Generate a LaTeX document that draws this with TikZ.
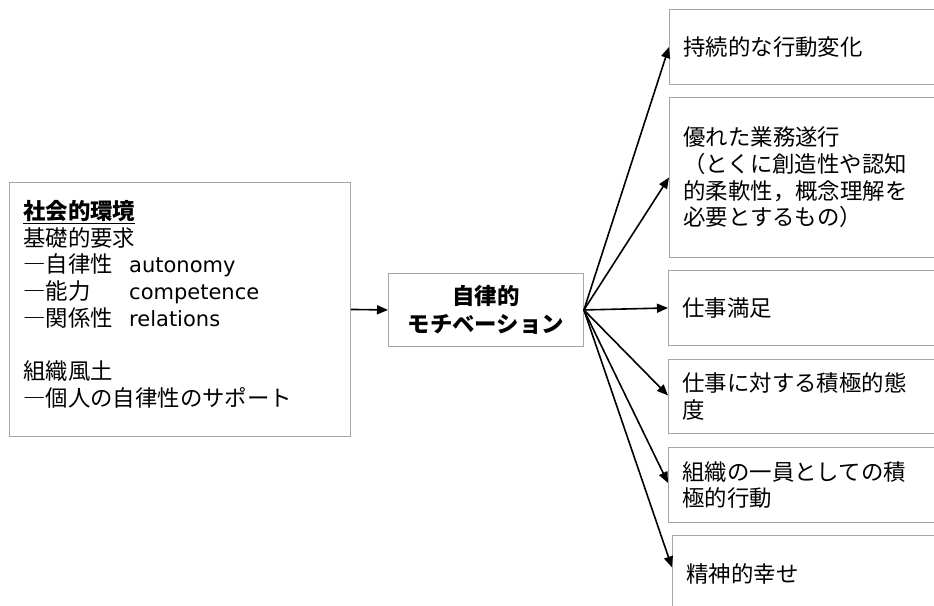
\documentclass[tikz,border=0pt]{standalone}
\usepackage{fontspec}
\setmainfont{Noto Sans CJK JP}
\newfontfamily\latinfont{DejaVu Sans}
\usetikzlibrary{arrows.meta}
\tikzset{
  box/.style={draw=black!35, line width=0.9pt, rectangle, inner sep=0pt},
  rbox/.style={box, anchor=north west, minimum width=290pt, align=left,
    text width=262pt, inner xsep=14pt, font=\fontsize{22.4}{26.7}\selectfont},
  conn/.style={line width=1.6pt, -{Triangle[length=11pt,width=9pt]}, shorten >=0pt},
}
\newcommand{\lat}[1]{{\latinfont\fontsize{21}{26.7}\selectfont #1}}
\begin{document}
\begin{tikzpicture}[x=1pt,y=-1pt]
\useasboundingbox (0,0) rectangle (934,605);
\clip (0,0) rectangle (934,605);
\fill[white] (0,0) rectangle (934,605);
% left box
\node[box, anchor=north west, minimum width=341pt, minimum height=254pt] (env) at (9,182) {};
\node[anchor=north west, align=left, inner sep=0pt,
      font=\fontsize{22.4}{26.7}\selectfont] (envtxt) at (23,200)
  {\textbf{\underline{社会的環境}}\\
   基礎的要求\\
   \makebox[106pt][l]{―自律性}\lat{autonomy}\\
   \makebox[106pt][l]{―能力}\lat{competence}\\
   \makebox[106pt][l]{―関係性}\lat{relations}\\[26.7pt]
   組織風土\\
   ―個人の自律性のサポート};
% middle box
\node[box, anchor=north west, minimum width=195pt, minimum height=73pt,
      align=center, font=\fontsize{22.4}{27.5}\bfseries\selectfont] (mot) at (388,273)
  {自律的\\モチベーション};
% right boxes
\node[rbox, minimum height=75pt] (r1) at (669,9) {持続的な行動変化};
\node[rbox, minimum height=160pt] (r2) at (669,97)
  {優れた業務遂行\\（とくに創造性や認知\\的柔軟性，概念理解を\\必要とするもの）};
\node[rbox, minimum height=75pt] (r3) at (668,270) {仕事満足};
\node[rbox, minimum height=74pt] (r4) at (668,359) {仕事に対する積極的態\\度};
\node[rbox, minimum height=75pt] (r5) at (668,447) {組織の一員としての積\\極的行動};
\node[rbox, minimum height=76pt] (r6) at (672,535) {精神的幸せ};
% connectors
\draw[conn] (env.east) -- (mot.west);
\draw[conn] (mot.east) -- (r1.west);
\draw[conn] (mot.east) -- (r2.west);
\draw[conn] (mot.east) -- (r3.west);
\draw[conn] (mot.east) -- ([yshift=1pt]r4.west);
\draw[conn] (mot.east) -- ([yshift=2pt]r5.west);
\draw[conn] (mot.east) -- ([yshift=6pt]r6.west);
\end{tikzpicture}
\end{document}
